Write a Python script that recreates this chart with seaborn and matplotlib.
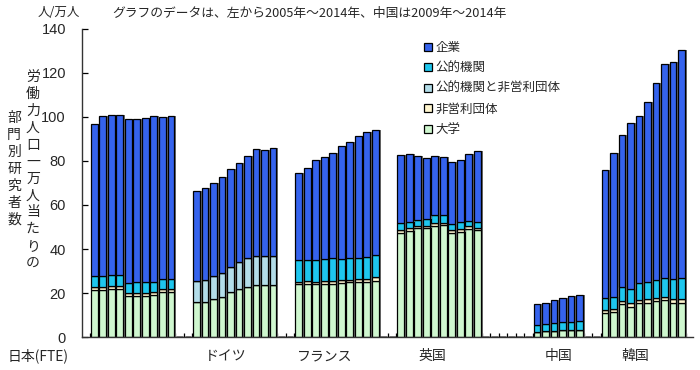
import pandas as pd
import matplotlib
matplotlib.use('Agg')
import matplotlib.pyplot as plt
import matplotlib.patheffects as pe
from matplotlib.patches import Patch
from matplotlib.transforms import blended_transform_factory
import seaborn as sns

# 年
years = list(range(2005, 2015))
china_years = list(range(2009, 2015))

countries = ['日本(FTE)', 'ドイツ', 'フランス', '英国', '中国', '韓国']
sectors = ['企業', '公的機関', '公的機関と非営利団体', '非営利団体', '大学']
colors = ['#3563ED', '#1EC6EE', '#B3DDE9', '#FFF6CF', '#CFF7CF']

# 部門別研究者数（人/労働力人口一万人）
japan = {
    '大学':       [21.2, 21.5, 21.8, 21.8, 18.5, 18.5, 18.8, 19.0, 20.6, 20.6],
    '非営利団体': [1.4, 1.3, 1.4, 1.4, 1.3, 1.3, 1.3, 1.3, 1.2, 1.2],
    '公的機関':   [5.3, 5.1, 4.8, 4.8, 4.8, 5.0, 4.8, 4.8, 4.7, 4.7],
    '企業':       [68.8, 72.6, 72.7, 72.7, 74.3, 74.1, 74.7, 75.1, 73.3, 73.7],
}
germany = {
    '大学':                 [15.8, 15.9, 17.4, 18.3, 20.3, 21.7, 22.9, 23.5, 23.6, 23.8],
    '公的機関と非営利団体': [9.7, 10.0, 10.5, 11.0, 11.7, 12.3, 13.0, 13.3, 13.4, 13.0],
    '企業':                 [41.0, 41.7, 42.3, 43.4, 44.2, 44.9, 46.5, 48.5, 48.2, 49.1],
}
france = {
    '大学':       [23.9, 24.3, 24.1, 24.3, 24.2, 24.7, 24.8, 25.0, 25.2, 25.6],
    '非営利団体': [1.1, 1.1, 1.1, 1.2, 1.2, 1.1, 1.2, 1.2, 1.4, 1.5],
    '公的機関':   [9.8, 9.8, 9.6, 10.0, 10.3, 9.5, 9.8, 9.9, 9.9, 10.0],
    '企業':       [39.9, 41.8, 45.5, 46.3, 47.8, 51.4, 52.7, 55.4, 56.8, 57.1],
}
uk = {
    '大学':       [47.1, 48.2, 49.4, 49.4, 50.6, 50.8, 47.4, 47.9, 49.1, 48.5],
    '非営利団体': [1.5, 1.2, 0.9, 0.9, 1.3, 1.1, 1.2, 1.3, 1.2, 1.2],
    '公的機関':   [3.1, 3.0, 2.7, 3.2, 3.4, 3.6, 2.8, 2.9, 2.3, 2.4],
    '企業':       [31.0, 30.8, 29.4, 27.7, 27.0, 26.5, 28.3, 28.4, 30.6, 32.4],
}
china = {
    '大学':     [2.5, 2.7, 2.9, 3.0, 3.2, 3.2],
    '公的機関': [3.1, 3.2, 3.5, 3.7, 3.8, 3.9],
    '企業':     [9.3, 9.4, 10.3, 11.0, 11.8, 12.0],
}
korea = {
    '大学':       [11.1, 11.5, 15.0, 13.8, 15.3, 15.6, 16.2, 16.8, 15.6, 15.3],
    '非営利団体': [1.0, 1.2, 1.2, 1.5, 1.5, 1.5, 1.7, 1.4, 1.8, 1.8],
    '公的機関':   [5.5, 5.6, 6.7, 6.7, 7.6, 7.9, 8.2, 8.6, 9.1, 9.7],
    '企業':       [58.3, 65.2, 68.9, 75.1, 75.9, 82.0, 89.4, 97.3, 98.3, 103.7],
}

country_data = [japan, germany, france, uk, china, korea]
year_lists = [years, years, years, years, china_years, years]

# 各国10本 + 間隔2本
group_step = 12
records = []
for gi, (data, yrs) in enumerate(zip(country_data, year_lists)):
    for sector, vals in data.items():
        for yr, v in zip(yrs, vals):
            records.append({'pos': gi * group_step + (yr - 2005), 'sector': sector, 'value': v})
df = pd.DataFrame(records)

sns.set_style('ticks')
plt.rcParams['font.family'] = ['Noto Sans CJK JP', 'DejaVu Sans']

fig = plt.figure(figsize=(7, 3.7), dpi=100)
ax = fig.add_axes([0.117, 0.089, 0.873, 0.833])

sns.histplot(data=df, x='pos', weights='value', hue='sector', hue_order=sectors,
             multiple='stack', discrete=True, shrink=0.8,
             palette=dict(zip(sectors, colors)), edgecolor='black',
             linewidth=0.9, alpha=1, legend=False, ax=ax)

for p in ax.patches:
    if p.get_height() > 0:
        p.set_path_effects([pe.SimplePatchShadow(offset=(1.4, 0), shadow_rgbFace='#707070', alpha=1),
                            pe.Normal()])

ax.set_xlim(-1.46, 70.34)
ax.set_ylim(0, 140)
ax.set_yticks(range(0, 141, 20))
ax.set_xticks([])
ax.set_xticks([i - 0.5 for i in range(0, 71)], minor=True)
ax.tick_params(axis='x', which='minor', direction='in', length=3, width=0.9, color='black')
ax.tick_params(axis='y', direction='in', length=4, width=0.9, color='black', pad=11.5,
               labelsize=10.5)
for lab in ax.get_yticklabels():
    lab.set_fontfamily('Liberation Sans')
ax.set_xlabel('')
ax.set_ylabel('')
sns.despine(ax=ax)
for s in ['left', 'bottom']:
    ax.spines[s].set_color('#333333')
    ax.spines[s].set_linewidth(1)

# 国名ラベル
trans = blended_transform_factory(ax.transData, ax.transAxes)
label_x = [-6.6, 15.4, 27.1, 39.7, 54.5, 63.6]
for name, x in zip(countries, label_x):
    ax.text(x, -0.062, name, transform=trans, ha='center', va='center',
            fontsize=10, clip_on=False)

# 凡例
handles = [Patch(facecolor=c, edgecolor='black', linewidth=0.9) for c in colors]
ax.legend(handles, sectors, loc='upper left', bbox_to_anchor=(0.55, 0.98),
          frameon=False, fontsize=9, handlelength=0.6, handleheight=0.6,
          handletextpad=0.3, labelspacing=0.6, borderpad=0)

# 縦書きの軸ラベル
fig.text(33 / 700, 1 - 170 / 370, '\n'.join('労働力人口一万人当たりの'),
         ha='center', va='center', fontsize=10, linespacing=1.26)
fig.text(14 / 700, 1 - 169 / 370, '\n'.join('部門別研究者数'),
         ha='center', va='center', fontsize=10, linespacing=1.26)

fig.text(38 / 700, 1 - 13 / 370, '人/万人', ha='left', va='center', fontsize=9)
fig.text(112 / 700, 1 - 14 / 370, 'グラフのデータは、左から2005年～2014年、中国は2009年～2014年',
         ha='left', va='center', fontsize=9.2)

fig.savefig('out.png', dpi=100)
